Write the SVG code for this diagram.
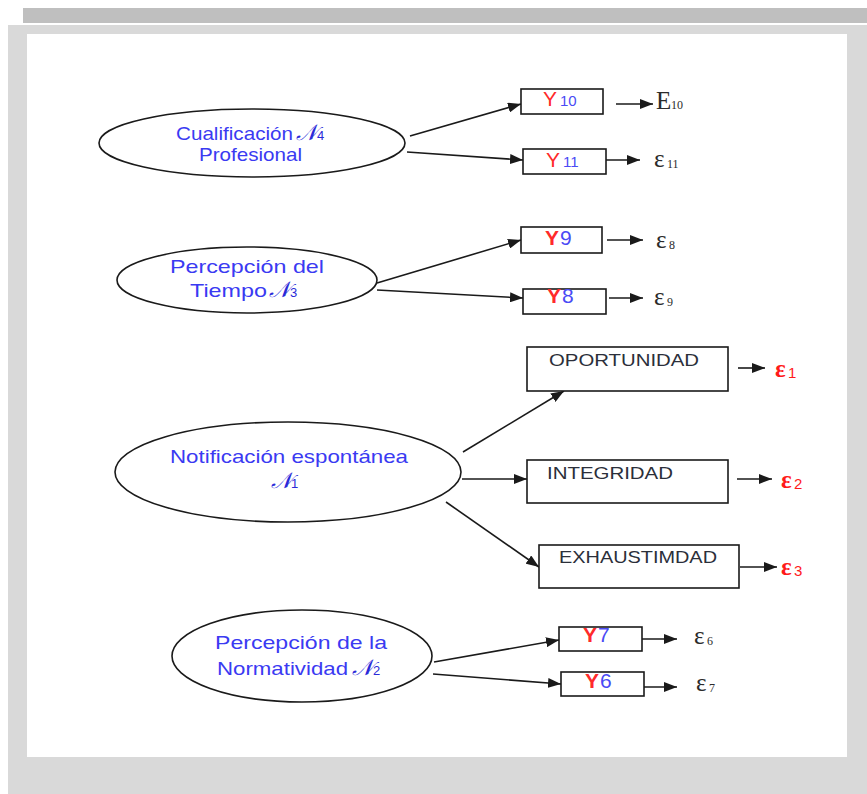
<svg xmlns="http://www.w3.org/2000/svg" width="867" height="794" viewBox="0 0 867 794">
  <style>
    .lat { fill: #ffffff; stroke: #1a1a1a; stroke-width: 1.6; }
    .box { fill: #ffffff; stroke: #1a1a1a; stroke-width: 1.6; }
    .lt { font-family: "Liberation Sans", Arial, sans-serif; font-size: 19px; fill: #3a3af2; }
    .sym { font-family: "DejaVu Serif", "Liberation Serif", serif; font-style: italic; font-size: 22px; fill: #2a2ad8; }
    .sub { font-family: "Liberation Sans", Arial, sans-serif; font-size: 13px; fill: #2a2ad8; }
    .bt { font-family: "Liberation Sans", Arial, sans-serif; font-size: 17px; fill: #2b2f3a; }
    .yr { font-family: "Liberation Sans", Arial, sans-serif; font-size: 21px; fill: #ff2a2a; }
    .yb { font-family: "Liberation Sans", Arial, sans-serif; fill: #4a4af5; }
    .eps { font-family: "Liberation Serif", "Times New Roman", serif; font-size: 25px; fill: #2b2b2b; }
    .epss { font-family: "Liberation Serif", "Times New Roman", serif; font-size: 12px; fill: #2b2b2b; }
    .epr { font-family: "Liberation Serif", "Times New Roman", serif; font-size: 25px; font-weight: bold; fill: #ff1a1a; }
    .eprs { font-family: "Liberation Sans", Arial, sans-serif; font-size: 15px; fill: #ff1a1a; }
    .edge { stroke: #1a1a1a; stroke-width: 1.6; fill: none; marker-end: url(#ah); }
  </style>
  <defs>
    <marker id="ah" markerUnits="userSpaceOnUse" markerWidth="14" markerHeight="10" refX="13" refY="5" orient="auto">
      <path d="M0,0 L13,5 L0,10 z" fill="#1a1a1a"/>
    </marker>
  </defs>

  <!-- page frame -->
  <rect x="23" y="8" width="844" height="15" fill="#bfbfbf"/>
  <rect x="8" y="25" width="859" height="769" fill="#d9d9d9"/>
  <rect x="27" y="34" width="820" height="723" fill="#ffffff"/>

  <!-- connectors -->
  <g id="connectors">
    <line class="edge" x1="410" y1="136" x2="521" y2="104"/>
    <line class="edge" x1="407" y1="152" x2="523" y2="160"/>
    <line class="edge" x1="377" y1="283" x2="521" y2="240"/>
    <line class="edge" x1="377" y1="290" x2="523" y2="298"/>
    <line class="edge" x1="463" y1="452" x2="564" y2="391"/>
    <line class="edge" x1="462" y1="479" x2="527" y2="479"/>
    <line class="edge" x1="446" y1="502" x2="539" y2="567"/>
    <line class="edge" x1="434" y1="662" x2="559" y2="640"/>
    <line class="edge" x1="433" y1="674" x2="561" y2="684"/>
    <line class="edge" x1="616" y1="104" x2="653" y2="104"/>
    <line class="edge" x1="606" y1="160" x2="640" y2="160"/>
    <line class="edge" x1="607" y1="240" x2="643" y2="240"/>
    <line class="edge" x1="609" y1="298" x2="643" y2="298"/>
    <line class="edge" x1="738" y1="368" x2="765" y2="368"/>
    <line class="edge" x1="737" y1="479" x2="772" y2="479"/>
    <line class="edge" x1="740" y1="567" x2="777" y2="567"/>
    <line class="edge" x1="642" y1="639" x2="677" y2="639"/>
    <line class="edge" x1="644" y1="687" x2="677" y2="687"/>
  </g>

  <!-- latent variables -->
  <g id="eta4">
    <ellipse class="lat" cx="252" cy="143" rx="153" ry="34"/>
    <text class="lt" x="176" y="140" textLength="117" lengthAdjust="spacingAndGlyphs">Cualificación</text>
    <text class="sym" x="296" y="140">𝒩</text><text class="sub" x="317" y="140">4</text>
    <text class="lt" x="199" y="161" textLength="103" lengthAdjust="spacingAndGlyphs">Profesional</text>
  </g>
  <g id="eta3">
    <ellipse class="lat" cx="247" cy="280" rx="130" ry="33"/>
    <text class="lt" x="170" y="273" textLength="154" lengthAdjust="spacingAndGlyphs">Percepción del</text>
    <text class="lt" x="190" y="297" textLength="77" lengthAdjust="spacingAndGlyphs">Tiempo</text>
    <text class="sym" x="269" y="297">𝒩</text><text class="sub" x="290" y="297">3</text>
  </g>
  <g id="eta1">
    <ellipse class="lat" cx="288" cy="472" rx="173" ry="50"/>
    <text class="lt" x="170" y="463" textLength="238" lengthAdjust="spacingAndGlyphs">Notificación espontánea</text>
    <text class="sym" x="271" y="488">𝒩</text><text class="sub" x="291" y="488">1</text>
  </g>
  <g id="eta2">
    <ellipse class="lat" cx="302" cy="656" rx="130" ry="46"/>
    <text class="lt" x="215" y="649" textLength="172" lengthAdjust="spacingAndGlyphs">Percepción de la</text>
    <text class="lt" x="217" y="675" textLength="131" lengthAdjust="spacingAndGlyphs">Normatividad</text>
    <text class="sym" x="352" y="675">𝒩</text><text class="sub" x="373" y="675">2</text>
  </g>

  <!-- observed indicators -->
  <g id="y10">
    <rect class="box" x="521" y="89" width="82" height="25"/>
    <text class="yr" x="543" y="106">Y</text><text class="yb" x="560" y="106" font-size="15">10</text>
  </g>
  <g id="y11">
    <rect class="box" x="523" y="149" width="83" height="25"/>
    <text class="yr" x="546" y="167">Y</text><text class="yb" x="563" y="167" font-size="15">11</text>
  </g>
  <g id="y9">
    <rect class="box" x="521" y="227" width="81" height="26"/>
    <text class="yr" x="545" y="245" font-weight="bold">Y</text><text class="yb" x="560" y="245" font-size="21">9</text>
  </g>
  <g id="y8">
    <rect class="box" x="523" y="289" width="83" height="25"/>
    <text class="yr" x="547" y="303" font-weight="bold">Y</text><text class="yb" x="562" y="303" font-size="21">8</text>
  </g>
  <g id="oportunidad">
    <rect class="box" x="527" y="347" width="201" height="44"/>
    <text class="bt" x="549" y="366" textLength="150" lengthAdjust="spacingAndGlyphs">OPORTUNIDAD</text>
  </g>
  <g id="integridad">
    <rect class="box" x="527" y="460" width="201" height="43"/>
    <text class="bt" x="547" y="479" textLength="126" lengthAdjust="spacingAndGlyphs">INTEGRIDAD</text>
  </g>
  <g id="exhaustividad">
    <rect class="box" x="539" y="545" width="200" height="43"/>
    <text class="bt" x="559" y="563" textLength="158" lengthAdjust="spacingAndGlyphs">EXHAUSTIMDAD</text>
  </g>
  <g id="y7">
    <rect class="box" x="559" y="627" width="83" height="24"/>
    <text class="yr" x="583" y="642" font-weight="bold">Y</text><text class="yb" x="598" y="642" font-size="21">7</text>
  </g>
  <g id="y6">
    <rect class="box" x="561" y="672" width="83" height="24"/>
    <text class="yr" x="585" y="688" font-weight="bold">Y</text><text class="yb" x="600" y="688" font-size="21">6</text>
  </g>

  <!-- error terms -->
  <g id="e10"><text class="eps" x="656" y="109" font-size="21">E</text><text class="epss" x="671" y="109">10</text></g>
  <g id="e11"><text class="eps" x="654" y="167">ε</text><text class="epss" x="667" y="168">11</text></g>
  <g id="e8"><text class="eps" x="656" y="248">ε</text><text class="epss" x="669" y="249">8</text></g>
  <g id="e9"><text class="eps" x="654" y="305">ε</text><text class="epss" x="667" y="306">9</text></g>
  <g id="e1"><text class="epr" x="775" y="377">ε</text><text class="eprs" x="788" y="378">1</text></g>
  <g id="e2"><text class="epr" x="781" y="488">ε</text><text class="eprs" x="794" y="489">2</text></g>
  <g id="e3"><text class="epr" x="781" y="575">ε</text><text class="eprs" x="794" y="576">3</text></g>
  <g id="e6"><text class="eps" x="694" y="644">ε</text><text class="epss" x="707" y="645">6</text></g>
  <g id="e7"><text class="eps" x="696" y="691">ε</text><text class="epss" x="709" y="692">7</text></g>
</svg>
